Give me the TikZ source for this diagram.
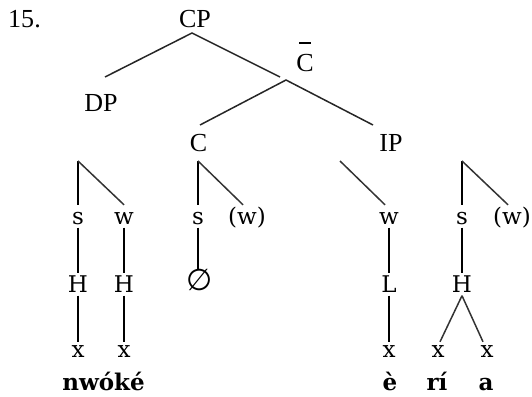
\documentclass[tikz,border=0pt]{standalone}
\usepackage{fontspec}
\setmainfont{Liberation Serif}
\newfontfamily\tierfont{DejaVu Serif}
\newfontfamily\emptysetfont{DejaVu Sans}
% C with a bar over it (C-bar projection)
\newcommand\barredC{\ooalign{C\cr\hidewidth\raisebox{27pt}{\rule{12pt}{2pt}}\hidewidth\cr}}

\begin{document}
\begin{tikzpicture}[x=1pt,y=-1pt,
  phrase/.style={font=\fontsize{26}{30}\selectfont, inner sep=0pt, anchor=base},
  tier/.style={font=\tierfont\fontsize{23}{26}\selectfont, inner sep=0pt, anchor=base,
               text height=19pt, text depth=3.5pt},
  slot/.style={tier, text height=15pt, text depth=0pt},
  word/.style={font=\tierfont\bfseries\fontsize{23}{26}\selectfont, inner sep=0pt, anchor=base},
  branch/.style={line width=1.5pt, black!85},
  assoc/.style={line width=1.6pt, black},
  foot/.style={line width=1.5pt, black!80}]

\useasboundingbox (0,0) rectangle (532,396);

% syntactic tree
\node[phrase] (num)  at (24.5,28)  {15.};
\node[phrase] (cp)   at (195,28)   {CP};
\node[phrase] (cbar) at (305,71)   {\barredC};
\node[phrase] (dp)   at (101,111)  {DP};
\node[phrase] (c)    at (198.5,151){C};
\node[phrase] (ip)   at (391,151)  {IP};

\coordinate (cp-a)   at (192,33);
\coordinate (dp-t)   at (105,77);
\coordinate (cbar-t) at (280,77);
\coordinate (cbar-a) at (286,80);
\coordinate (c-t)    at (200,125);
\coordinate (ip-t)   at (373,125);

\draw[branch] (dp-t) -- (cp-a) -- (cbar-t);
\draw[branch] (c-t) -- (cbar-a) -- (ip-t);

% metrical feet
\coordinate (dp-f) at (78,161);
\coordinate (c-f)  at (198,161);
\coordinate (ip-f) at (340,161);
\coordinate (v-f)  at (462,161);

\node[tier] (s1) at (78,224)    {s};
\node[tier] (w1) at (124,224)   {w};
\node[tier] (s2) at (198,224)   {s};
\node[tier] (w2) at (247,224)   {(w)};
\node[tier] (w3) at (389,224)   {w};
\node[tier] (s4) at (462,224)   {s};
\node[tier] (w4) at (512,224)   {(w)};

\draw[assoc] (s1.north) -- (dp-f);
\draw[foot]  (dp-f) -- (w1.north);
\draw[assoc] (s2.north) -- (c-f);
\draw[foot]  (c-f) -- ([xshift=-4pt]w2.north);
\draw[foot]  (ip-f) -- ([xshift=-4pt]w3.north);
\draw[assoc] (s4.north) -- (v-f);
\draw[foot]  (v-f) -- ([xshift=-4pt]w4.north);

% tones
\node[tier] (h1) at (78,292)    {H};
\node[tier] (h2) at (124,292)   {H};
\node[tier, font=\emptysetfont\fontsize{30}{32}\selectfont, text height=21pt] (nul) at (199.5,290) {∅};
\node[tier] (l3) at (389,292)   {L};
\node[tier] (h4) at (462,292)   {H};

\draw[assoc] (s1.south) -- (h1.north);
\draw[assoc] (w1.south) -- (h2.north);
\draw[assoc] (s2.south) -- ([xshift=-1.5pt]nul.north);
\draw[assoc] (w3.south) -- (l3.north);
\draw[assoc] (s4.south) -- (h4.north);

% timing slots
\node[slot] (x1) at (78,357)    {x};
\node[slot] (x2) at (124,357)   {x};
\node[slot] (x3) at (389,357)   {x};
\node[slot] (x4) at (438,357)   {x};
\node[slot] (x5) at (487,357)   {x};

\draw[assoc] (h1.south) -- (x1.north);
\draw[assoc] (h2.south) -- (x2.north);
\draw[assoc] (l3.south) -- (x3.north);
\draw[foot]  (h4.south) -- ([xshift=2pt]x4.north);
\draw[foot]  (h4.south) -- ([xshift=-4pt]x5.north);

% segmental words
\node[word] (nwoke) at (103.5,390) {nwóké};
\node[word] (e)     at (390,390)   {è};
\node[word] (ri)    at (437,390)   {rí};
\node[word] (a)     at (486,390)   {a};
\end{tikzpicture}
\end{document}
